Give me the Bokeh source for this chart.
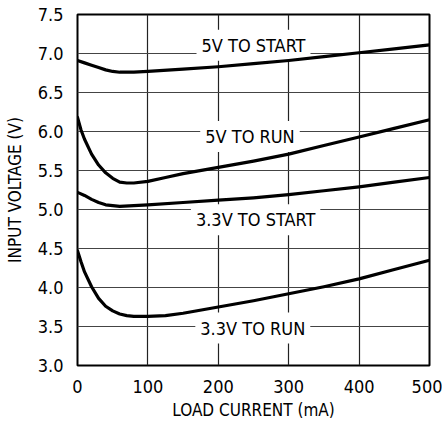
from bokeh.plotting import figure
from bokeh.models import FixedTicker, Range1d
from bokeh.core.properties import value
from bokeh.embed import file_html
from bokeh.resources import INLINE

FONT = "DejaVu Sans Condensed, Liberation Sans"

# ---- data ----
x_5v_start = [0, 10, 20, 30, 40, 50, 60, 80, 100, 150, 200, 250, 300, 350, 400, 450, 500]
y_5v_start = [6.91, 6.88, 6.85, 6.82, 6.79, 6.77, 6.76, 6.76, 6.77, 6.80, 6.83, 6.87, 6.91, 6.96, 7.01, 7.06, 7.11]

x_5v_run = [0, 5, 10, 20, 30, 40, 50, 60, 70, 80, 100, 125, 150, 200, 250, 300, 350, 400, 450, 500]
y_5v_run = [6.18, 6.02, 5.90, 5.71, 5.57, 5.47, 5.40, 5.35, 5.34, 5.34, 5.36, 5.41, 5.46, 5.54, 5.62, 5.71, 5.82, 5.93, 6.04, 6.15]

x_33_start = [0, 10, 20, 30, 40, 50, 60, 80, 100, 150, 200, 250, 300, 350, 400, 450, 500]
y_33_start = [5.22, 5.18, 5.13, 5.09, 5.06, 5.05, 5.04, 5.05, 5.06, 5.09, 5.12, 5.15, 5.19, 5.24, 5.29, 5.35, 5.41]

x_33_run = [0, 5, 10, 20, 30, 40, 50, 60, 70, 80, 100, 125, 150, 200, 250, 300, 350, 400, 450, 500]
y_33_run = [4.47, 4.33, 4.20, 4.01, 3.86, 3.76, 3.70, 3.66, 3.64, 3.63, 3.63, 3.64, 3.67, 3.75, 3.83, 3.92, 4.01, 4.11, 4.23, 4.35]

label_text = ["5V TO START", "5V TO RUN", "3.3V TO START", "3.3V TO RUN"]
label_x = [250, 245, 253, 249]
label_y = [7.107, 5.936, 4.87, 3.48]

x_ticks = [0, 100, 200, 300, 400, 500]
y_ticks = [3.0, 3.5, 4.0, 4.5, 5.0, 5.5, 6.0, 6.5, 7.0, 7.5]
y_tick_labels = ["3.0", "3.5", "4.0", "4.5", "5.0", "5.5", "6.0", "6.5", "7.0", "7.5"]

# ---- figure ----
p = figure(output_backend="svg", toolbar_location=None,
           frame_width=352, frame_height=351,
           min_border_left=77, min_border_right=13, min_border_top=14, min_border_bottom=40,
           x_range=Range1d(0, 500), y_range=Range1d(3.0, 7.5))
p.background_fill_color = "white"
p.border_fill_color = "white"
p.outline_line_color = "black"
p.outline_line_width = 2

p.xaxis.ticker = FixedTicker(ticks=x_ticks)
p.yaxis.ticker = FixedTicker(ticks=y_ticks)
p.yaxis.major_label_overrides = {t: l for t, l in zip(y_ticks, y_tick_labels)}
p.xgrid.ticker = FixedTicker(ticks=x_ticks[1:-1])
p.ygrid.ticker = FixedTicker(ticks=y_ticks[1:-1])
p.xgrid.grid_line_color = "#222222"
p.ygrid.grid_line_color = "#444444"
p.xgrid.grid_line_width = 1.2
p.ygrid.grid_line_width = 1.2

for ax in (p.xaxis, p.yaxis):
    ax.axis_line_color = None
    ax.major_tick_line_color = None
    ax.minor_tick_line_color = None
    ax.major_tick_out = 0
    ax.major_tick_in = 0
    ax.minor_tick_out = 0
    ax.major_label_text_font = FONT
    ax.major_label_text_font_size = "18px"
    ax.major_label_text_color = "black"
    ax.axis_label_text_font = FONT
    ax.axis_label_text_font_size = "17px"
    ax.axis_label_text_font_style = "normal"
    ax.axis_label_text_color = "black"

p.xaxis.axis_label = "LOAD CURRENT (mA)"
p.yaxis.axis_label = "INPUT VOLTAGE (V)"
p.xaxis.major_label_standoff = 14
p.yaxis.major_label_standoff = 14
p.xaxis.axis_label_standoff = 4
p.yaxis.axis_label_standoff = 10

# labels with white boxes (cover the grid)
p.text(x=label_x, y=label_y, text=label_text,
       text_font=value(FONT), text_font_size="18px", text_color="black",
       text_align="center", text_baseline="middle",
       background_fill_color="white", padding=5)

# curves
for xs, ys in ((x_5v_start, y_5v_start), (x_5v_run, y_5v_run),
               (x_33_start, y_33_start), (x_33_run, y_33_run)):
    p.line(xs, ys, line_color="black", line_width=3.2, line_join="round", line_cap="round")

open("out.html", "w").write(file_html(p, INLINE))
